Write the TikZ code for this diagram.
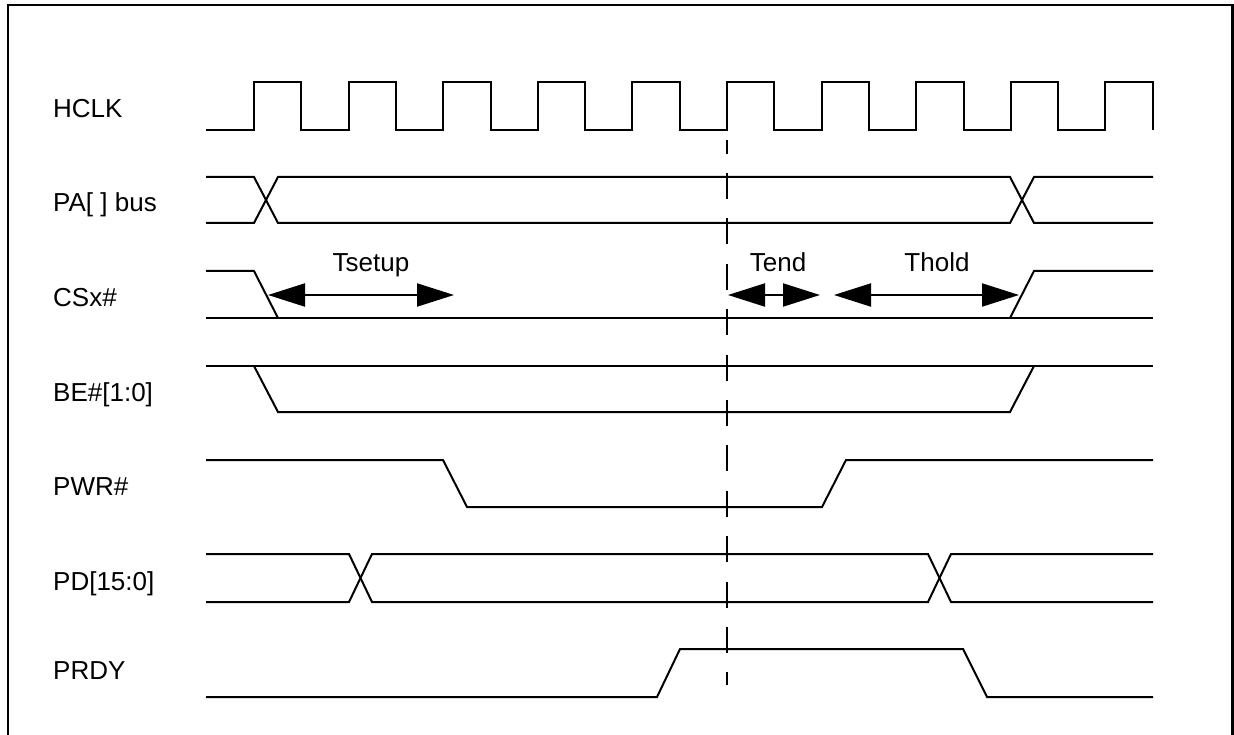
\documentclass[tikz,border=0pt]{standalone}
\usepackage{fontspec}
\setmainfont{Liberation Sans}
\usetikzlibrary{arrows.meta}
\begin{document}
\begin{tikzpicture}[x=1pt,y=-1pt,
  sig/.style={line width=2pt,line join=miter},
  lbl/.style={anchor=base west,inner sep=0pt,font=\fontsize{26}{30}\selectfont},
  tlbl/.style={anchor=base,inner sep=0pt,font=\fontsize{26}{30}\selectfont},
  dim/.style={line width=2pt,{Triangle[length=37pt,width=23pt]}-{Triangle[length=37pt,width=23pt]}}]
\useasboundingbox (0,0) rectangle (1234,735);
\fill[white] (0,0) rectangle (1234,735);
% frame
\draw[line width=2.5pt] (8,735) -- (8,5) -- (1232.5,5) -- (1232.5,735);
% labels
\node[lbl] (lhclk) at (53,118) {HCLK};
\node[lbl] (lpa) at (53,212) {PA[ ] bus};
\node[lbl] (lcs) at (53,306) {CSx\#};
\node[lbl] (lbe) at (53,401) {BE\#[1:0]};
\node[lbl] (lpwr) at (53,495) {PWR\#};
\node[lbl] (lpd) at (53,590) {PD[15:0]};
\node[lbl] (lprdy) at (53,679) {PRDY};
% HCLK
\draw[sig] (206,130) \foreach \k in {0,...,9} { -- ({254+\k*94.6},130) -- ({254+\k*94.6},82) -- ({301.3+\k*94.6},82) -- ({301.3+\k*94.6},130) };
% PA bus
\draw[sig] (206,177) -- (254,177) -- (278,223) -- (1010,223) -- (1034,177) -- (1153,177);
\draw[sig] (206,223) -- (254,223) -- (278,177) -- (1010,177) -- (1034,223) -- (1153,223);
% CSx#
\draw[sig] (206,271) -- (254,271) -- (278,318);
\draw[sig] (206,318) -- (1153,318);
\draw[sig] (1010,318) -- (1034,271) -- (1153,271);
% BE#
\draw[sig] (206,366) -- (1153,366);
\draw[sig] (254,366) -- (278,412) -- (1010,412) -- (1034,366);
% PWR#
\draw[sig] (206,460) -- (443,460) -- (467,507) -- (822,507) -- (846,460) -- (1153,460);
% PD
\draw[sig] (206,554) -- (349,554) -- (372,602) -- (928,602) -- (951,554) -- (1153,554);
\draw[sig] (206,602) -- (349,602) -- (372,554) -- (928,554) -- (951,602) -- (1153,602);
% PRDY
\draw[sig] (206,697) -- (657,697) -- (680,649) -- (963,649) -- (987,697) -- (1153,697);
% reference line
\coordinate (dtop) at (727,140);
\coordinate (dbot) at (727,685);
\draw[line width=2pt,dash pattern=on 26pt off 19.4pt,dash phase=12.4pt] (dtop) -- (dbot);
% timing arrows
\coordinate (tsA) at (268,295); \coordinate (tsB) at (454,295);
\coordinate (teA) at (728,295); \coordinate (teB) at (820,295);
\coordinate (thA) at (834,295); \coordinate (thB) at (1019,295);
\draw[dim] (tsA) -- (tsB);
\draw[dim] (teA) -- (teB);
\draw[dim] (thA) -- (thB);
\node[tlbl] (tsetup) at (371,272) {Tsetup};
\node[tlbl] (tend) at (778,272) {Tend};
\node[tlbl] (thold) at (937,272) {Thold};
\end{tikzpicture}
\end{document}
